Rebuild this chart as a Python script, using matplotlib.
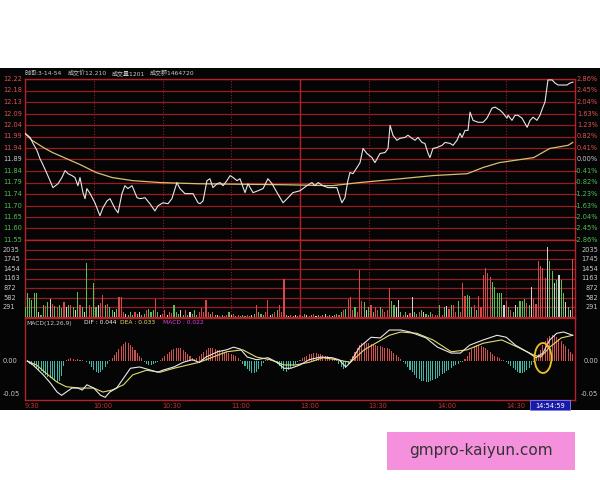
import matplotlib.pyplot as plt
from matplotlib.patches import Rectangle, Ellipse

plt.rcParams['font.family'] = ['DejaVu Sans', 'Noto Sans CJK SC']

# ---- data (minutes since 9:30, lunch break removed) ----
price_t = [0, 2.2, 3.5, 5.2, 6.5, 7.4, 9.6, 12.2, 14.4, 16.1, 17.5, 18.8, 20.5, 21.8, 23.1, 24, 25.3, 26.2, 27, 28.4,
           30.5, 32.7, 34, 35.8, 37.1, 39.3, 40.6, 42.3, 43.6, 44.9, 46.7, 48, 48.9, 50.2, 52.4, 54.5, 56.7, 58, 60.2, 62.4,
           64.1, 66.3, 67.6, 69.8, 73.3, 75.5, 76.4, 77.7, 79.4, 80.7, 82, 83.8, 85.1, 86.4, 88.1, 89.5, 90.8, 92.5, 93.8, 96,
           97.3, 99.5, 101.7, 103.9, 106, 107.8, 110, 112.6, 114.8, 116.9, 120, 123, 125.2, 126.5, 127.9, 130, 132.2, 136.1,
           137.5, 138.3, 139.6, 140.9, 141.8, 143.1, 144.9, 146.2, 147.5, 149.2, 151.4, 152.7, 154.9, 157.1, 158.4, 159.3,
           160.6, 162.3, 163.6, 165.8, 167.1, 168.9, 170.2, 171.5, 173.2, 174.5, 175.9, 176.7, 178, 179.8, 182, 183.3, 185.5,
           186.8, 188.5, 189.8, 190.7, 192, 193.3, 194.2, 195.5, 197.7, 199.9, 201.6, 203.8, 205.1, 207.3, 208.6, 210.3,
           210.8, 212.5, 213.8, 215.1, 216.9, 219.1, 220.4, 221.7, 223.4, 224.7, 226, 226.9, 228.2, 230, 231.3, 232.6, 236.5,
           237.8, 239.1]
price = [11.994, 11.977, 11.952, 11.923, 11.889, 11.872, 11.826, 11.768, 11.784, 11.810, 11.839, 11.826, 11.818, 11.810,
         11.776, 11.810, 11.747, 11.722, 11.764, 11.743, 11.705, 11.651, 11.684, 11.713, 11.722, 11.680, 11.663, 11.743,
         11.776, 11.764, 11.776, 11.747, 11.726, 11.722, 11.726, 11.701, 11.671, 11.692, 11.705, 11.701, 11.722, 11.789,
         11.764, 11.743, 11.743, 11.705, 11.701, 11.713, 11.797, 11.805, 11.768, 11.784, 11.789, 11.776, 11.797, 11.818,
         11.810, 11.797, 11.805, 11.747, 11.784, 11.747, 11.755, 11.764, 11.805, 11.784, 11.747, 11.705, 11.726, 11.747,
         11.755, 11.776, 11.789, 11.776, 11.789, 11.776, 11.768, 11.768, 11.726, 11.705, 11.726, 11.797, 11.831, 11.826,
         11.852, 11.872, 11.931, 11.910, 11.893, 11.872, 11.910, 11.914, 11.931, 12.027, 11.985, 11.965, 11.973, 11.977,
         11.986, 11.973, 11.965, 11.977, 11.956, 11.952, 11.910, 11.893, 11.931, 11.935, 11.944, 11.956, 11.952, 11.944,
         11.965, 11.994, 11.977, 12.006, 12.006, 12.082, 12.048, 12.040, 12.040, 12.057, 12.099, 12.103, 12.090, 12.078,
         12.057, 12.069, 12.048, 12.069, 12.069, 12.057, 12.019, 12.048, 12.061, 12.048, 12.069, 12.103, 12.124, 12.216,
         12.216, 12.203, 12.195, 12.195, 12.203, 12.207]

avg_t = [0, 3, 8, 12, 18, 24, 31, 38, 47, 59, 76, 113, 134, 146, 164, 178, 193, 200, 207, 222, 229, 237, 239]
avg_price = [11.994, 11.965, 11.935, 11.914, 11.889, 11.864, 11.831, 11.810, 11.797, 11.789, 11.784, 11.780, 11.776,
             11.789, 11.805, 11.818, 11.826, 11.852, 11.872, 11.893, 11.931, 11.944, 11.956]

volume = [300, 720, 570, 500, 720, 720, 150, 60, 360, 330, 450, 540, 390, 330, 300, 360, 270, 450, 300, 360,
          350, 300, 200, 750, 360, 300, 150, 1620, 360, 300, 1020, 300, 360, 420, 660, 360, 400, 300, 200, 150,
          250, 600, 600, 150, 100, 60, 150, 60, 150, 100, 150, 60, 100, 200, 230, 150, 200, 540, 150, 60,
          100, 200, 60, 150, 120, 360, 150, 100, 200, 60, 210, 60, 150, 100, 200, 60, 150, 270, 150, 510,
          150, 100, 150, 60, 60, 30, 60, 30, 60, 150, 60, 100, 30, 60, 30, 60, 30, 60, 30, 60,
          100, 360, 150, 100, 60, 150, 510, 60, 100, 150, 200, 360, 150, 1140, 60, 30, 60, 30, 60, 30,
          60, 30, 100, 60, 30, 60, 100, 30, 60, 30, 60, 100, 30, 60, 30, 60, 100, 60, 150, 200,
          250, 540, 600, 200, 300, 150, 1410, 480, 450, 200, 300, 360, 150, 300, 200, 300, 250, 150, 200, 870,
          480, 350, 300, 510, 150, 60, 150, 60, 120, 600, 150, 100, 150, 200, 150, 100, 60, 150, 100, 60,
          60, 360, 60, 300, 330, 240, 360, 360, 150, 480, 150, 1020, 630, 660, 630, 300, 360, 200, 630, 300,
          1260, 1470, 1320, 1200, 1050, 900, 720, 720, 720, 360, 480, 300, 200, 150, 360, 300, 480, 480, 540, 420,
          360, 900, 540, 390, 1680, 1530, 1470, 1170, 2120, 1680, 1380, 1020, 1110, 1260, 1110, 720, 450, 300, 200, 1740]
volume_side = ("ggggggwggrgwrgrggrwg" "rgwgrgwgrrggwrrgrggw" "grrrwgggrgwggrgggrgw" "rrwrrgggwgrgwgggrrrr"
               "rgrgwrgrrgwrgrgggrgw" "grgggrrwgrgrrrgwrgwr" "rrgwrgrwgrgwrgwggrgr" "grrrgrrrgwgrgrrgrrrr"
               "ggwwgrgwrwggrgwgggrr" "rgrgwrgrrgrrrgggrgrr" "rrrrgggggwrgrgwggggr" "gwrrrrrrwggwgwggwgwr")

macd_hist = [0, -2, -4, -6, -8, -10, -13, -15, -18, -21, -24, -26, -28, -30, -32, -30, -22,
             -8, 2, 3, 4, 3, 2, 3, 2, 1, 0, -2,
             -5, -9, -13, -16, -18, -17, -14, -9, -4,
             2, 5, 9, 13, 18, 22, 26, 29, 28, 25, 21, 17, 12, 8, 4,
             -2, -4, -6, -6, -5, -3, -1, 1,
             4, 7, 10, 13, 16, 18, 19, 20, 19, 17, 14, 11, 8, 5, 3,
             4, 8, 11, 14, 17, 19, 20, 19, 18, 17, 16, 15, 14, 13, 12, 11, 9, 7, 4, 1,
             -4, -8, -12, -15, -18, -18, -16, -12, -7, -3,
             2, 3, 3, 2, 0,
             -4, -8, -12, -15, -16, -14, -11, -8, -4, -1,
             2, 4, 6, 8, 10, 11, 12, 12, 11, 10, 9, 8, 7, 6, 4, 3, 1,
             -4, -9, -12, -10, -5,
             3, 8, 14, 20, 25, 28, 29, 28, 27, 26, 25, 24, 23, 22, 21, 20, 20, 18, 15, 12, 9, 6, 3,
             -2, -5, -9, -13, -17, -21, -25, -28, -30, -31, -32, -32, -31, -29, -27, -25, -22, -20, -18, -15, -13,
             -10, -8, -6, -4, -2, -1,
             3, 8, 13, 18, 22, 24, 24, 23, 21, 19, 16, 13, 10, 8, 6, 4, 2, 1,
             -2, -5, -8, -11, -14, -16, -18, -18, -17, -14, -10, -6, -2,
             4, 10, 17, 24, 30, 35, 38, 40, 39, 37, 34, 30, 26, 22, 18, 14, 10]  # x 0.001

dif_t = [1, 3.5, 8, 11, 14, 16, 18, 20.5, 23, 25, 27, 30, 33, 35, 37, 40, 43, 46, 50, 55, 58, 60, 65, 69, 73, 76, 79,
         84, 88, 91, 94, 97, 101, 106, 110, 113, 116, 120, 124, 129, 134, 137, 140, 142, 146, 151, 155, 159, 164, 168,
         175, 180, 186, 190, 194, 200, 206, 210, 214, 220, 223, 226, 229, 232, 235, 239]
dif = [0.000, -0.006, -0.021, -0.033, -0.047, -0.052, -0.047, -0.041, -0.041, -0.044, -0.036, -0.041, -0.052, -0.055,
       -0.047, -0.041, -0.026, -0.011, -0.009, -0.014, -0.017, -0.014, -0.009, -0.002, 0.002, -0.002, 0.006, 0.014,
       0.017, 0.021, 0.018, 0.006, 0.002, 0.005, -0.002, -0.011, -0.011, -0.006, 0.002, 0.006, 0.005, 0.002, -0.009,
       -0.002, 0.021, 0.036, 0.035, 0.047, 0.047, 0.044, 0.035, 0.021, 0.012, 0.012, 0.024, 0.032, 0.039, 0.036,
       0.024, 0.012, 0.005, 0.012, 0.032, 0.042, 0.044, 0.039]
dea_t = [1, 5, 9, 14, 18, 24, 30, 34, 38, 43, 47, 53, 59, 65, 71, 76, 82, 88, 95, 101, 107, 113, 118, 124, 130, 136,
         142, 148, 154, 159, 164, 171, 178, 186, 193, 200, 208, 215, 222, 225, 229, 234, 239]
dea = [0.000, -0.006, -0.018, -0.032, -0.039, -0.041, -0.041, -0.047, -0.044, -0.036, -0.021, -0.014, -0.017, -0.011,
       -0.006, -0.002, 0.006, 0.014, 0.017, 0.006, 0.002, -0.006, -0.006, -0.002, 0.005, 0.002, -0.002, 0.017, 0.029,
       0.039, 0.044, 0.042, 0.032, 0.014, 0.017, 0.027, 0.032, 0.021, 0.009, 0.006, 0.021, 0.035, 0.039]

price_labels = ["12.22", "12.18", "12.13", "12.09", "12.04", "11.99", "11.94", "11.89",
                "11.84", "11.79", "11.74", "11.70", "11.65", "11.60", "11.55"]
pct_labels = ["2.86%", "2.45%", "2.04%", "1.63%", "1.23%", "0.82%", "0.41%", "0.00%",
              "-0.41%", "-0.82%", "-1.23%", "-1.63%", "-2.04%", "-2.45%", "-2.86%"]
vol_labels = ["2035", "1745", "1454", "1163", "872", "582", "291"]
time_labels = ["9:30", "10:00", "10:30", "11:00", "13:00", "13:30", "14:00", "14:30"]
time_pos = [0, 30, 60, 90, 120, 150, 180, 210]

GRID = '#961c22'
BORDER = '#b42228'
RED_TXT = '#e05050'
GRN_TXT = '#50c050'
GRAY_TXT = '#c8c8c8'
FS = 4.8


def box(x0, y0, x1, y1):
    # pixel box (top-left origin) -> figure fraction rect
    return [x0 / 600, 1 - y1 / 480, (x1 - x0) / 600, (y1 - y0) / 480]


def fy(y):
    return 1 - y / 480


fig = plt.figure(figsize=(6, 4.8), dpi=100, facecolor='white')
fig.patches.append(Rectangle((0, fy(410)), 1, (410 - 68) / 480, transform=fig.transFigure,
                             facecolor='#050505', edgecolor='none', zorder=-5))

ax_p = fig.add_axes(box(25, 79, 575, 240))
ax_v = fig.add_axes(box(25, 240, 575, 317))
ax_m = fig.add_axes(box(25, 318, 575, 400))

for ax in (ax_p, ax_v, ax_m):
    ax.set_facecolor('#050505')
    ax.set_xlim(0, 240)
    ax.set_xticks([])
    ax.set_yticks([])
    for s in ax.spines.values():
        s.set_color(BORDER)
        s.set_linewidth(1.0)

# price panel
lo, hi = 11.55, 12.22
ax_p.set_ylim(lo, hi)
step = (hi - lo) / 14
for i in range(15):
    lv = hi - i * step
    ax_p.axhline(lv, color=GRID, lw=0.9)
    c = RED_TXT if i < 7 else (GRN_TXT if i > 7 else GRAY_TXT)
    ax_p.text(-22 / 550, lv, price_labels[i], transform=ax_p.get_yaxis_transform(), color=c,
              fontsize=FS, va='center', ha='left')
    ax_p.text(1 + 23 / 550, lv, pct_labels[i], transform=ax_p.get_yaxis_transform(), color=c,
              fontsize=FS, va='center', ha='right')
for ax in (ax_p, ax_v):
    for tp in time_pos[1:]:
        if tp == 120:
            ax.axvline(tp, color='#b42228', lw=1.0)
        else:
            ax.axvline(tp, color=GRID, lw=0.8, ls=(0, (1, 1.5)))
ax_p.plot(avg_t, avg_price, color='#d8c070', lw=0.9, zorder=3)
ax_p.plot(price_t, price, color='#e6e6e6', lw=0.8, zorder=4)

# volume panel
vstep = 291
ax_v.set_ylim(0, vstep * 8)
for i in range(1, 8):
    ax_v.axhline(vstep * i, color=GRID, lw=0.9)
for i, lab in enumerate(vol_labels):
    lv = vstep * (7 - i)
    ax_v.text(-22 / 550, lv, lab, transform=ax_v.get_yaxis_transform(), color=GRAY_TXT,
              fontsize=FS, va='center', ha='left')
    ax_v.text(1 + 23 / 550, lv, lab, transform=ax_v.get_yaxis_transform(), color=GRAY_TXT,
              fontsize=FS, va='center', ha='right')
cmap = {'r': '#d84848', 'g': '#58c058', 'w': '#d0d0d0'}
ax_v.bar(range(len(volume)), volume, width=0.5, color=[cmap[c] for c in volume_side], zorder=3)

# MACD panel
ax_m.set_ylim(-0.0591, 0.0652)
hv = [h / 1000 for h in macd_hist]
ax_m.bar(range(len(hv)), hv, width=0.45,
         color=['#d05050' if h >= 0 else '#40b8a8' for h in hv], zorder=2)
ax_m.plot(dea_t, dea, color='#e0dc70', lw=0.8, zorder=3)
ax_m.plot(dif_t, dif, color='#e8e8e8', lw=0.8, zorder=4)
for v, lab in [(0, "0.00"), (-0.05, "-0.05")]:
    ax_m.text(-22 / 550, v, lab, transform=ax_m.get_yaxis_transform(), color=GRAY_TXT,
              fontsize=FS, va='center', ha='left')
    ax_m.text(1 + 23 / 550, v, lab, transform=ax_m.get_yaxis_transform(), color=GRAY_TXT,
              fontsize=FS, va='center', ha='right')
fig.patches.append(Ellipse((543 / 600, fy(358)), 17 / 600, 30 / 480, transform=fig.transFigure,
                           fill=False, edgecolor='#f0c020', lw=1.3, zorder=10))

# headers
HF = 4.3
fig.text(25 / 600, fy(73), "时间:3-14-54", color=GRAY_TXT, fontsize=HF, va='center')
fig.text(68 / 600, fy(73), "成交价12.210", color=GRAY_TXT, fontsize=HF, va='center')
fig.text(112 / 600, fy(73), "成交量1201", color=GRAY_TXT, fontsize=HF, va='center')
fig.text(150 / 600, fy(73), "成交额1464720", color=GRAY_TXT, fontsize=HF, va='center')

fig.text(26 / 600, fy(323), "MACD(12,26,9)", color=GRAY_TXT, fontsize=HF, va='center')
fig.text(84 / 600, fy(323), "DIF : 0.044", color='#f0f0f0', fontsize=HF, va='center')
fig.text(120 / 600, fy(323), "DEA : 0.033", color='#e8e070', fontsize=HF, va='center')
fig.text(163 / 600, fy(323), "MACD : 0.022", color='#e040e0', fontsize=HF, va='center')

# time axis
for tp, lab in zip(time_pos, time_labels):
    fig.text((25 + tp * 550 / 240) / 600, fy(405.5), lab, color='#c83030', fontsize=FS,
             va='center', ha='left')
fig.patches.append(Rectangle((530 / 600, fy(410)), 40 / 600, 10 / 480, transform=fig.transFigure,
                             facecolor='#1a1aa8', edgecolor='#8080ff', lw=0.6, zorder=5))
fig.text(550 / 600, fy(405.5), "14:54:59", color='white', fontsize=FS, va='center', ha='center', zorder=6)

# watermark
fig.patches.append(Rectangle((387 / 600, fy(470)), 188 / 600, 38 / 480, transform=fig.transFigure,
                             facecolor='#f590dc', edgecolor='none', zorder=1))
fig.text(481 / 600, fy(451), "gmpro-kaiyun.com", color='#333333', fontsize=11,
         family=['DejaVu Sans'], va='center', ha='center')

fig.savefig('out.png', dpi=100, facecolor='white')
